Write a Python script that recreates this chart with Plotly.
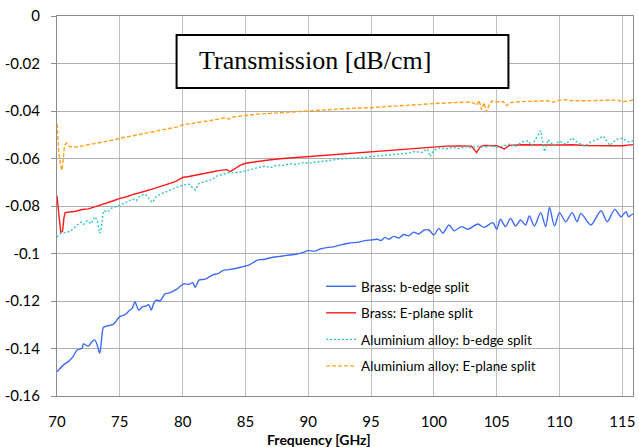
import plotly.graph_objects as go

# ---- data ----
brass_b_f = [70.0, 70.5, 71.0, 71.3, 71.6, 72.0, 72.1, 72.5, 72.8, 73.0, 73.2, 73.4, 73.55, 73.7,
             74.0, 74.5, 75.0, 75.4, 75.8, 76.0, 76.2, 76.5, 76.8, 77.1, 77.3, 77.5, 77.7, 77.9,
             78.2, 78.6, 79.0, 79.5, 80.1, 80.5, 80.8, 81.0, 81.3, 81.8, 82.4, 82.8, 83.2, 83.7,
             84.2, 84.6, 85.3, 86.0, 86.5, 87.0, 87.6, 88.3, 89.1, 89.6, 90.0, 90.5, 91.0, 91.6,
             92.0, 92.5, 93.2, 94.0, 94.5, 95.0, 95.5, 95.8, 96.1, 96.4, 96.8, 97.2, 97.6, 98.0,
             98.4, 98.8, 99.2, 99.6, 100.0, 100.4, 100.7, 101.2, 101.6, 102.2, 102.7, 103.5, 104.0,
             104.7, 105.0, 105.3, 105.7, 106.1, 106.5, 106.9, 107.3, 107.6, 108.0, 108.5, 108.9,
             109.2, 109.6, 110.0, 110.5, 111.0, 111.4, 111.7, 112.5, 113.3, 113.8, 114.4, 114.9,
             115.3, 115.5, 115.8, 116.0]
brass_b_v = [-0.1498, -0.1470, -0.1451, -0.1432, -0.1406, -0.1399, -0.1381, -0.1390, -0.1370, -0.1364,
             -0.1385, -0.1420, -0.1360, -0.1311, -0.1305, -0.1297, -0.1266, -0.1258, -0.1238, -0.1230,
             -0.1203, -0.1238, -0.1225, -0.1221, -0.1215, -0.1238, -0.1210, -0.1196, -0.1200, -0.1170,
             -0.1165, -0.1151, -0.1128, -0.1130, -0.1123, -0.1142, -0.1112, -0.1108, -0.1090, -0.1085,
             -0.1072, -0.1068, -0.1063, -0.1058, -0.1048, -0.1027, -0.1025, -0.1018, -0.1013, -0.1008,
             -0.1002, -0.0995, -0.0988, -0.0990, -0.0980, -0.0974, -0.0972, -0.0965, -0.0957, -0.0952,
             -0.0946, -0.0943, -0.0940, -0.0945, -0.0932, -0.0940, -0.0928, -0.0935, -0.0920, -0.0925,
             -0.0910, -0.0918, -0.0902, -0.0901, -0.0922, -0.0894, -0.0915, -0.0880, -0.0904, -0.0887,
             -0.0898, -0.0876, -0.0890, -0.0870, -0.0898, -0.0856, -0.0887, -0.0852, -0.0884, -0.0859,
             -0.0880, -0.0842, -0.0884, -0.0828, -0.0887, -0.0806, -0.0884, -0.0828, -0.0866, -0.0828,
             -0.0866, -0.0831, -0.0880, -0.0820, -0.0866, -0.0814, -0.0845, -0.0824, -0.0845, -0.0834,
             -0.0842]

brass_e_f = [70.0, 70.1, 70.2, 70.3, 70.45, 70.55, 70.65, 71.0, 71.5, 72.0, 72.5, 73.0, 73.5, 74.0,
             74.5, 75.0, 75.5, 76.0, 76.5, 77.0, 77.5, 78.0, 78.5, 79.0, 79.5, 80.0, 80.5, 81.0,
             81.5, 82.0, 82.5, 83.0, 83.5, 83.8, 84.2, 84.6, 85.0, 86.0, 87.0, 88.0, 89.0, 90.0,
             91.0, 92.0, 93.0, 94.0, 95.0, 96.0, 97.0, 98.0, 99.0, 100.0, 101.0, 102.0, 103.0,
             103.4, 103.7, 104.0, 105.0, 105.6, 106.0, 107.0, 108.0, 109.0, 110.0, 111.0, 112.0,
             113.0, 114.0, 115.0, 116.0]
brass_e_v = [-0.0757, -0.0820, -0.0880, -0.0912, -0.0905, -0.0850, -0.0828, -0.0826, -0.0822, -0.0815,
             -0.0812, -0.0804, -0.0796, -0.0785, -0.0778, -0.0768, -0.0762, -0.0752, -0.0746, -0.0738,
             -0.0730, -0.0722, -0.0715, -0.0705, -0.0695, -0.0680, -0.0676, -0.0670, -0.0665, -0.0660,
             -0.0655, -0.0650, -0.0647, -0.0655, -0.0640, -0.0628, -0.0620, -0.0612, -0.0605, -0.0600,
             -0.0596, -0.0592, -0.0585, -0.0582, -0.0578, -0.0575, -0.0571, -0.0566, -0.0562, -0.0557,
             -0.0553, -0.0550, -0.0548, -0.0547, -0.0548, -0.0575, -0.0550, -0.0545, -0.0546, -0.0560,
             -0.0545, -0.0542, -0.0544, -0.0543, -0.0543, -0.0542, -0.0545, -0.0544, -0.0546, -0.0546,
             -0.0541]

alu_b_f = [70.0, 70.3, 70.6, 71.0, 71.3, 71.6, 71.9, 72.1, 72.4, 72.7, 73.0, 73.2, 73.4, 73.5, 73.7,
           74.0, 74.3, 74.6, 75.0, 75.5, 76.0, 76.3, 76.6, 77.0, 77.3, 77.6, 77.9, 78.2, 78.6, 79.0,
           79.5, 80.0, 80.5, 81.0, 81.3, 81.8, 82.3, 82.8, 83.2, 83.6, 84.0, 84.5, 85.0, 85.5, 86.0,
           86.5, 87.0, 87.5, 88.0, 88.5, 89.0, 89.5, 90.0, 91.0, 92.0, 93.0, 94.0, 95.0, 96.0, 97.0,
           98.0, 98.5, 99.0, 99.5, 99.7, 100.0, 100.5, 101.0, 101.5, 102.0, 102.5, 103.0, 103.5,
           104.0, 104.5, 105.0, 105.5, 106.0, 106.5, 107.0, 107.5, 107.8, 108.2, 108.5, 108.8,
           109.1, 109.5, 110.0, 110.5, 111.0, 111.5, 112.0, 112.5, 113.0, 113.5, 114.0, 114.5,
           115.0, 115.5, 116.0]
alu_b_v = [-0.0930, -0.0915, -0.0912, -0.0908, -0.0895, -0.0880, -0.0868, -0.0878, -0.0862, -0.0875,
           -0.0845, -0.0860, -0.0915, -0.0900, -0.0820, -0.0825, -0.0810, -0.0805, -0.0796, -0.0785,
           -0.0770, -0.0778, -0.0758, -0.0750, -0.0768, -0.0785, -0.0760, -0.0750, -0.0742, -0.0732,
           -0.0722, -0.0712, -0.0708, -0.0733, -0.0705, -0.0697, -0.0690, -0.0672, -0.0668, -0.0660,
           -0.0660, -0.0658, -0.0652, -0.0645, -0.0640, -0.0632, -0.0638, -0.0628, -0.0630, -0.0622,
           -0.0625, -0.0618, -0.0620, -0.0612, -0.0606, -0.0600, -0.0598, -0.0592, -0.0586, -0.0582,
           -0.0578, -0.0570, -0.0575, -0.0560, -0.0592, -0.0565, -0.0555, -0.0560, -0.0552, -0.0558,
           -0.0550, -0.0555, -0.0548, -0.0553, -0.0545, -0.0552, -0.0548, -0.0540, -0.0550, -0.0530,
           -0.0525, -0.0545, -0.0510, -0.0482, -0.0571, -0.0520, -0.0545, -0.0527, -0.0540, -0.0513,
           -0.0535, -0.0548, -0.0530, -0.0520, -0.0506, -0.0545, -0.0520, -0.0515, -0.0530, -0.0525]

alu_e_f = [70.0, 70.15, 70.3, 70.4, 70.5, 70.6, 70.75, 71.0, 71.5, 72.0, 72.5, 73.0, 73.5, 74.0, 74.5,
           75.0, 75.5, 76.0, 76.5, 77.0, 77.5, 78.0, 78.5, 79.0, 79.5, 80.0, 80.5, 81.0, 81.5, 82.0,
           82.5, 83.0, 83.4, 83.7, 84.0, 84.5, 85.0, 86.0, 87.0, 88.0, 89.0, 90.0, 91.0, 92.0, 93.0,
           94.0, 95.0, 96.0, 97.0, 98.0, 99.0, 100.0, 101.0, 102.0, 103.0, 103.4, 103.6, 103.8,
           104.0, 104.2, 104.4, 104.6, 105.0, 105.5, 105.8, 106.0, 106.5, 107.0, 108.0, 109.0,
           109.5, 110.0, 110.5, 111.0, 112.0, 113.0, 114.0, 114.5, 115.0, 115.5, 116.0]
alu_e_v = [-0.0455, -0.0580, -0.0630, -0.0650, -0.0600, -0.0545, -0.0535, -0.0550, -0.0552, -0.0547,
           -0.0545, -0.0540, -0.0533, -0.0530, -0.0522, -0.0515, -0.0510, -0.0505, -0.0500, -0.0495,
           -0.0490, -0.0482, -0.0480, -0.0472, -0.0468, -0.0458, -0.0455, -0.0450, -0.0446, -0.0442,
           -0.0437, -0.0432, -0.0428, -0.0434, -0.0425, -0.0422, -0.0418, -0.0413, -0.0410, -0.0406,
           -0.0403, -0.0400, -0.0397, -0.0393, -0.0390, -0.0389, -0.0386, -0.0382, -0.0378, -0.0375,
           -0.0372, -0.0369, -0.0366, -0.0364, -0.0362, -0.0375, -0.0355, -0.0395, -0.0365, -0.0404,
           -0.0375, -0.0358, -0.0362, -0.0360, -0.0378, -0.0365, -0.0361, -0.0360, -0.0359, -0.0357,
           -0.0362, -0.0355, -0.0352, -0.0357, -0.0357, -0.0355, -0.0356, -0.0354, -0.0360, -0.0358,
           -0.0352]

series_names = ["Brass: b-edge split", "Brass: E-plane split",
                "Aluminium alloy: b-edge split", "Aluminium alloy: E-plane split"]
x_ticks = [70, 75, 80, 85, 90, 95, 100, 105, 110, 115]
y_ticks = [0, -0.02, -0.04, -0.06, -0.08, -0.1, -0.12, -0.14, -0.16]
y_tick_text = ["0", "-0.02", "-0.04", "-0.06", "-0.08", "-0.1", "-0.12", "-0.14", "-0.16"]

FONT = "Lato, 'Liberation Sans', sans-serif"

fig = go.Figure()
styles = [
    dict(color="#3F6CF7", width=1.4, dash="solid", shape="spline", smoothing=0.8),
    dict(color="#FF1A1A", width=1.4, dash="solid"),
    dict(color="#33C6C6", width=1.4, dash="2px,2px"),
    dict(color="#FFA21F", width=1.4, dash="4px,2px"),
]
data = [(brass_b_f, brass_b_v), (brass_e_f, brass_e_v), (alu_b_f, alu_b_v), (alu_e_f, alu_e_v)]
for i, ((fx, fy), nm, st) in enumerate(zip(data, series_names, styles)):
    fig.add_trace(go.Scatter(x=fx, y=fy, mode="lines", name=nm, line=st,
                             legendgroup=f"g{i}"))

fig.update_layout(
    width=639, height=447,
    margin=dict(l=57, r=4, t=16, b=51),
    paper_bgcolor="white", plot_bgcolor="white",
    font=dict(family=FONT, size=15, color="black"),
    showlegend=True,
    legend=dict(x=(322 - 57) / 578, y=(396 - 271) / 380, xanchor="left", yanchor="top",
                font=dict(family=FONT, size=13.5, color="black"),
                bgcolor="rgba(0,0,0,0)", tracegroupgap=6, itemwidth=30,
                traceorder="grouped"),
    xaxis=dict(range=[70, 115.85], tickvals=x_ticks, showgrid=True, gridcolor="#BFBFBF",
               gridwidth=1.2, showline=True, linecolor="#8C8C8C", linewidth=1, mirror=True,
               ticks="", zeroline=False, ticklabelstandoff=12,
               tickfont=dict(family=FONT, size=15)),
    yaxis=dict(range=[-0.16, 0], tickvals=y_ticks, ticktext=y_tick_text, showgrid=True,
               gridcolor="#AFAFAF", gridwidth=1, showline=True, linecolor="#8C8C8C",
               linewidth=1, mirror=True, ticks="outside", ticklen=5, tickcolor="#8C8C8C",
               zeroline=False, ticklabelstandoff=8, tickfont=dict(family=FONT, size=15)),
)

# title box
fig.add_shape(type="rect", xref="paper", yref="paper",
              x0=(177 - 57) / 578, x1=(510 - 57) / 578,
              y0=(396 - 88) / 380, y1=(396 - 35) / 380,
              line=dict(color="black", width=2), fillcolor="white", layer="above")
fig.add_annotation(text="Transmission [dB/cm]", xref="paper", yref="paper",
                   x=(316 - 57) / 578, y=(396 - 60) / 380, xanchor="center", yanchor="middle",
                   showarrow=False,
                   font=dict(family="'Liberation Serif', 'Times New Roman', serif", size=26,
                             color="black"))
# x-axis title
fig.add_annotation(text="<b>Frequency [GHz]</b>", xref="paper", yref="paper",
                   x=(320 - 57) / 578, y=(396 - 439) / 380, xanchor="center", yanchor="middle",
                   showarrow=False, font=dict(family=FONT, size=14, color="black"))

fig.write_html("out.html", config={"displayModeBar": False},
               post_script="document.body.style.margin='0px';document.body.style.overflow='hidden';")
